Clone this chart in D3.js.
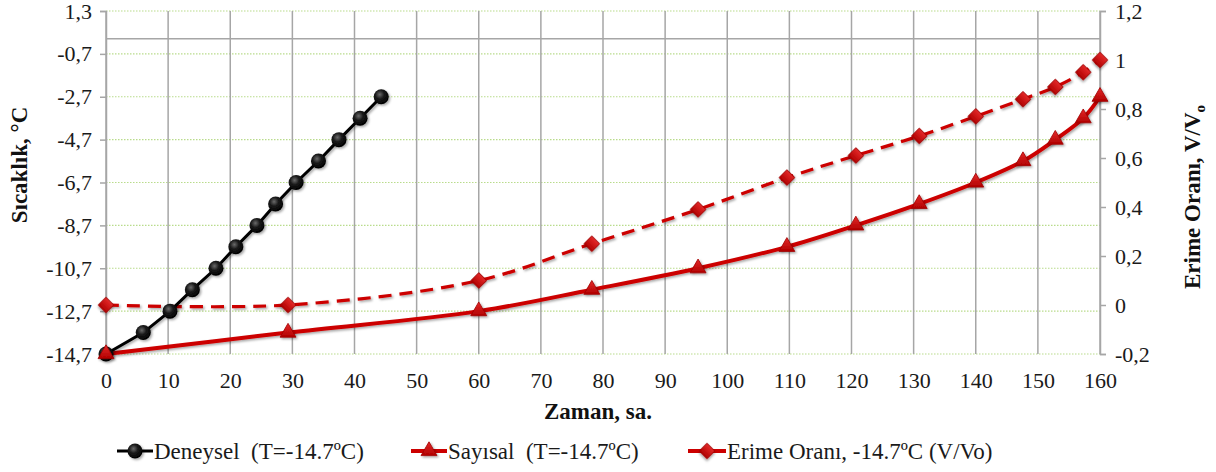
<!DOCTYPE html>
<html>
<head>
<meta charset="utf-8">
<script src="https://cdn.jsdelivr.net/npm/d3@7"></script>
<style>
  html, body { margin: 0; padding: 0; background: #fff; }
  svg { display: block; }
  svg text { font-family: "Liberation Serif", "Times New Roman", Times, serif; }
</style>
</head>
<body>
<svg id="chart" width="1216" height="472"></svg>
<script>
// Measured data: time (h) vs temperature (°C) and melt ratio (V/Vo)
const deneyselTime = [0, 6, 10.3, 13.9, 17.7, 20.9, 24.3, 27.3, 30.6, 34.2, 37.5, 40.9, 44.3];
const deneyselTemp = [-14.7, -13.7, -12.7, -11.7, -10.7, -9.7, -8.7, -7.7, -6.7, -5.7, -4.7, -3.7, -2.7];

const sayisalTime = [0, 29.3, 60, 78.2, 95.3, 109.6, 120.7, 130.9, 140, 147.6, 152.8, 157.3, 160];
const sayisalTemp = [-14.7, -13.7, -12.7, -11.7, -10.7, -9.7, -8.7, -7.7, -6.7, -5.7, -4.7, -3.7, -2.7];

const erimeTime = [0, 29.3, 60, 78.2, 95.3, 109.6, 120.7, 130.9, 140, 147.6, 152.8, 157.3, 160];
const erimeOrani = [0, 0, 0.10, 0.25, 0.39, 0.52, 0.61, 0.69, 0.77, 0.84, 0.89, 0.95, 1.0];

const xTicks = [0, 10, 20, 30, 40, 50, 60, 70, 80, 90, 100, 110, 120, 130, 140, 150, 160];
const leftTicks = [1.3, -0.7, -2.7, -4.7, -6.7, -8.7, -10.7, -12.7, -14.7];
const rightTicks = [1.2, 1.0, 0.8, 0.6, 0.4, 0.2, 0, -0.2];

const legendLabels = ["Deneysel  (T=-14.7ºC)", "Sayısal  (T=-14.7ºC)", "Erime Oranı, -14.7ºC (V/Vo)"];

const svg = d3.select("#chart");
const plotLeft = 106, plotRight = 1100, plotTop = 11, plotBottom = 354;
const serif = "'Liberation Serif', 'Times New Roman', Times, serif";

const x = d3.scaleLinear().domain([0, 160]).range([plotLeft, plotRight]);
const yL = d3.scaleLinear().domain([-14.7, 1.3]).range([plotBottom, plotTop]);
const yR = d3.scaleLinear().domain([-0.2, 1.2]).range([plotBottom, plotTop]);

const fmt = v => {
  const s = Number.isInteger(v) ? String(v) : v.toFixed(1);
  return s.replace(".", ",");
};

// defs: marker shading + shadow
const defs = svg.append("defs");
const gBlack = defs.append("radialGradient").attr("id", "gBlack")
  .attr("cx", "40%").attr("cy", "35%").attr("r", "65%");
gBlack.append("stop").attr("offset", "0%").attr("stop-color", "#6a6a6a");
gBlack.append("stop").attr("offset", "45%").attr("stop-color", "#1a1a1a");
gBlack.append("stop").attr("offset", "100%").attr("stop-color", "#000");
const gRed = defs.append("linearGradient").attr("id", "gRed")
  .attr("x1", "0").attr("y1", "0").attr("x2", "0").attr("y2", "1");
gRed.append("stop").attr("offset", "0%").attr("stop-color", "#e52a2a");
gRed.append("stop").attr("offset", "100%").attr("stop-color", "#b00000");
const shadow = defs.append("filter").attr("id", "shadow")
  .attr("x", "-50%").attr("y", "-50%").attr("width", "200%").attr("height", "200%");
shadow.append("feDropShadow").attr("dx", 1.5).attr("dy", 1.5).attr("stdDeviation", 1.2)
  .attr("flood-color", "#000").attr("flood-opacity", 0.35);

// horizontal dotted gridlines
svg.append("g").selectAll("line").data(leftTicks).join("line")
  .attr("x1", plotLeft).attr("x2", plotRight)
  .attr("y1", d => yL(d)).attr("y2", d => yL(d))
  .attr("stroke", "#b9dc8c").attr("stroke-width", 1.2).attr("stroke-dasharray", "1.5,1.5");

// vertical gridlines
svg.append("g").selectAll("line").data(xTicks).join("line")
  .attr("x1", d => x(d)).attr("x2", d => x(d))
  .attr("y1", plotTop).attr("y2", plotBottom)
  .attr("stroke", "#a6a6a6").attr("stroke-width", 1.5);

// horizontal axis line at 0 °C
svg.append("line")
  .attr("x1", plotLeft).attr("x2", plotRight).attr("y1", yL(0)).attr("y2", yL(0))
  .attr("stroke", "#a6a6a6").attr("stroke-width", 1.5);

// left axis
const axL = d3.axisLeft(yL).tickValues(leftTicks).tickFormat(fmt).tickSize(6).tickPadding(8);
const gL = svg.append("g").attr("transform", `translate(${plotLeft},0)`).call(axL);
// right axis
const axR = d3.axisRight(yR).tickValues(rightTicks).tickFormat(fmt).tickSize(6).tickPadding(9);
const gR = svg.append("g").attr("transform", `translate(${plotRight},0)`).call(axR);
// bottom labels
const axB = d3.axisBottom(x).tickValues(xTicks).tickFormat(d => String(d)).tickSize(0).tickPadding(18);
const gB = svg.append("g").attr("transform", `translate(0,${plotBottom})`).call(axB);
gB.select(".domain").remove();

[gL, gR, gB].forEach(g => {
  g.attr("font-family", null).attr("font-size", null);
  g.selectAll(".domain").attr("stroke", "#a6a6a6").attr("stroke-width", 1.5);
  g.selectAll(".tick line").attr("stroke", "#a6a6a6").attr("stroke-width", 1.5);
  g.selectAll("text").style("font-family", serif)
    .style("font-size", "22px").attr("fill", "#1a1a1a");
});

// axis titles
svg.append("text").attr("transform", "translate(27,165) rotate(-90)")
  .attr("text-anchor", "middle").style("font-size", "23px").attr("font-weight", "bold")
  .style("font-family", serif).attr("fill", "#111").text("Sıcaklık, °C");
const rt = svg.append("text").attr("transform", "translate(1200,197) rotate(-90)")
  .attr("text-anchor", "middle").style("font-size", "23px").attr("font-weight", "bold")
  .style("font-family", serif).attr("fill", "#111");
rt.append("tspan").text("Erime Oranı, V/V");
rt.append("tspan").style("font-size", "15px").attr("dy", 5).text("o");
svg.append("text").attr("x", 598).attr("y", 419)
  .attr("text-anchor", "middle").style("font-size", "23px").attr("font-weight", "bold")
  .style("font-family", serif).attr("fill", "#111").text("Zaman, sa.");

// series
const plot = svg.append("g");
const deneysel = deneyselTime.map((t, i) => [t, deneyselTemp[i]]);
const sayisal = sayisalTime.map((t, i) => [t, sayisalTemp[i]]);
const erime = erimeTime.map((t, i) => [t, erimeOrani[i]]);

const smooth = d3.curveCatmullRom.alpha(0.5);

plot.append("path").datum(erime)
  .attr("d", d3.line().x(d => x(d[0])).y(d => yR(d[1])).curve(smooth))
  .attr("fill", "none").attr("stroke", "#cc0000").attr("stroke-width", 3.2)
  .attr("stroke-dasharray", "13,8").attr("filter", "url(#shadow)");

plot.append("path").datum(sayisal)
  .attr("d", d3.line().x(d => x(d[0])).y(d => yL(d[1])).curve(smooth))
  .attr("fill", "none").attr("stroke", "#cc0000").attr("stroke-width", 4)
  .attr("filter", "url(#shadow)");

plot.append("path").datum(deneysel)
  .attr("d", d3.line().x(d => x(d[0])).y(d => yL(d[1])))
  .attr("fill", "none").attr("stroke", "#000").attr("stroke-width", 3)
  .attr("filter", "url(#shadow)");

const tri = d3.symbol().type(d3.symbolTriangle).size(110);
const dia = d3.symbol().type(d3.symbolSquare).size(120);

function diamondsAt(g, pts, px, py) {
  g.selectAll(null).data(pts).join("path")
    .attr("d", dia)
    .attr("transform", d => `translate(${px(d)},${py(d)}) rotate(45)`)
    .attr("fill", "url(#gRed)").attr("stroke", "#a00000").attr("stroke-width", 0.8)
    .attr("filter", "url(#shadow)");
}
function trianglesAt(g, pts, px, py) {
  g.selectAll(null).data(pts).join("path")
    .attr("d", tri)
    .attr("transform", d => `translate(${px(d)},${py(d)})`)
    .attr("fill", "url(#gRed)").attr("stroke", "#a00000").attr("stroke-width", 0.8)
    .attr("filter", "url(#shadow)");
}
function circlesAt(g, pts, px, py) {
  g.selectAll(null).data(pts).join("circle")
    .attr("cx", px).attr("cy", py).attr("r", 7.5)
    .attr("fill", "url(#gBlack)").attr("filter", "url(#shadow)");
}

diamondsAt(plot.append("g"), erime, d => x(d[0]), d => yR(d[1]));
circlesAt(plot.append("g"), deneysel, d => x(d[0]), d => yL(d[1]));
trianglesAt(plot.append("g"), sayisal, d => x(d[0]), d => yL(d[1]));

// legend
const legY = 451;
const legItems = [
  { x0: 117, x1: 153, color: "#000", kind: "circle", text: legendLabels[0] },
  { x0: 411, x1: 447, color: "#cc0000", kind: "tri", text: legendLabels[1] },
  { x0: 688, x1: 726, color: "#cc0000", kind: "dia", text: legendLabels[2] }
];
const leg = svg.append("g");
legItems.forEach(it => {
  leg.append("line").attr("x1", it.x0).attr("x2", it.x1).attr("y1", legY).attr("y2", legY)
    .attr("stroke", it.color).attr("stroke-width", it.kind === "circle" ? 3 : 4);
  const c = (it.x0 + it.x1) / 2;
  const g = leg.append("g");
  if (it.kind === "circle") circlesAt(g, [[c, legY]], d => d[0], d => d[1]);
  if (it.kind === "tri") trianglesAt(g, [[c, legY]], d => d[0], d => d[1]);
  if (it.kind === "dia") diamondsAt(g, [[c, legY]], d => d[0], d => d[1]);
  leg.append("text").attr("x", it.x1 + 1).attr("y", legY + 8)
    .style("font-size", "23px").style("font-family", serif).attr("fill", "#1a1a1a")
    .attr("xml:space", "preserve").style("white-space", "pre").text(it.text);
});
</script>
</body>
</html>
